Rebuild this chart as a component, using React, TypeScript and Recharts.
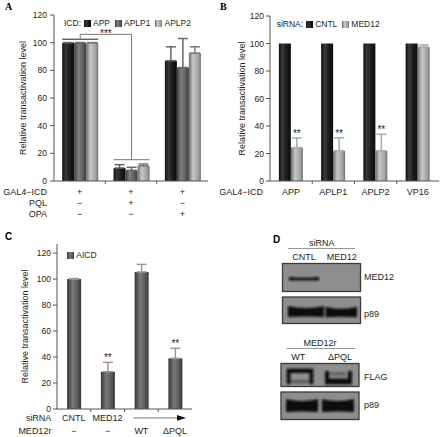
import React from 'react';
import { BarChart, Bar, XAxis, YAxis, ErrorBar, LabelList, Legend, ReferenceArea } from 'recharts';

const FONT = '"Liberation Sans", Arial, Helvetica, sans-serif';
const INK = '#1e1e1e';
const AXIS = '#555';
const FRAME = '#8a8a8a';

// ---- panel A: GAL4-ICD with PQL / OPA domains
const groupsA = ['ICD', 'ICD+PQL', 'ICD+OPA'];
const seriesA = ['APP', 'APLP1', 'APLP2'];
const rowNamesA = ['GAL4\u2212ICD', 'PQL', 'OPA'];
const gal4RowA = ['+', '+', '+'];
const pqlRowA = ['\u2212', '+', '\u2212'];
const opaRowA = ['\u2212', '\u2212', '+'];
const appA = [100, 9.4, 87];
const appErrA = [0, 2.4, 10];
const aplp1A = [100, 7.7, 82];
const aplp1ErrA = [0, 2.2, 21];
const aplp2A = [100, 11, 92.5];
const aplp2ErrA = [0, 1.3, 4.5];
const bracketA = { from: 0, to: 1, fromTop: 102.5, toTop: 15.4, peak: 106, mark: '***' };

// ---- panel B: siRNA knock-down
const icdB = ['APP', 'APLP1', 'APLP2', 'VP16'];
const seriesB = ['CNTL', 'MED12'];
const cntlB = [100, 100, 100, 100];
const med12B = [24.3, 22, 22, 97.5];
const med12ErrB = [7, 9.4, 12, 1.5];
const sigB = ['**', '**', '**', ''];

// ---- panel C: rescue
const lanesC = ['CNTL', 'MED12', 'WT', 'dPQL'];
const sirnaRowC = ['CNTL', 'MED12', '', ''];
const med12rRowC = ['\u2212', '\u2212', 'WT', '\u0394PQL'];
const aicdC = [100, 28.7, 105.5, 39];
const aicdErrC = [0.4, 7.2, 5.8, 7.7];
const sigC = ['', '**', '', '**'];

// ---- panel D: blots
const sirnaLanesD = ['CNTL', 'MED12'];
const rescueLanesD = ['WT', '\u0394PQL'];
const blotNamesD = ['MED12', 'p89', 'FLAG', 'p89'];

const ticksY = [0, 20, 40, 60, 80, 100, 120];

const dataA = groupsA.map((g, i) => ({
  group: g,
  app: appA[i], appErr: [0, appErrA[i]],
  aplp1: aplp1A[i], aplp1Err: [0, aplp1ErrA[i]],
  aplp2: aplp2A[i], aplp2Err: [0, aplp2ErrA[i]],
}));
const dataB = icdB.map((g, i) => ({ icd: g, cntl: cntlB[i], med12: med12B[i], med12Err: [0, med12ErrB[i]], sig: sigB[i] }));
const dataC = lanesC.map((g, i) => ({ lane: g, aicd: aicdC[i], aicdErr: [0, aicdErrC[i]], sig: sigC[i] }));

const LA = { left: 0, top: 0, w: 220, h: 220, m: { top: 15, right: 12, bottom: 0, left: 0 }, yw: 54, xh: 39 };
const LB = { left: 220, top: 0, w: 221, h: 220, m: { top: 16, right: 2, bottom: 0, left: 0 }, yw: 50, xh: 39 };
const LC = { left: 0, top: 220, w: 220, h: 217, m: { top: 24, right: 28, bottom: 0, left: 0 }, yw: 57, xh: 28 };
const bandOf = (L: any, n: number) => (L.w - L.m.left - L.m.right - L.yw) / n;

const yLabel = (dx: number) => (props: any) => {
  const { x, y, width, height } = props.viewBox;
  const cx = x + width / 2 + dx;
  const cy = y + height / 2;
  return (
    <text x={cx} y={cy} transform={`rotate(-90, ${cx}, ${cy})`} textAnchor="middle" dominantBaseline="central"
      fontSize={9} fontFamily={FONT} fill={INK}>Relative transactivation level</text>
  );
};

const rowTick = (rows: string[][], names: string[], band: number, base: number, step: number, nameGap: number, arrowAt = -1) => (props: any) => {
  const { x, y, index } = props;
  const half = band / 2;
  return (
    <g fontFamily={FONT} fontSize={9} fill={INK}>
      {index > 0 && <line x1={x - half} x2={x - half} y1={y} y2={y + 3} stroke={AXIS} />}
      {rows.map((row, r) => (
        <text key={r} x={x} y={y + base + r * step} textAnchor="middle">{row[index]}</text>
      ))}
      {index === 0 && names.map((n, r) => (
        <text key={'n' + r} x={x - half - nameGap} y={y + base + r * step} textAnchor="end">{n}</text>
      ))}
      {index === arrowAt && (
        <g>
          <line x1={x - half + 9} x2={x + band * 1.5 - 12} y1={y + base - 3} y2={y + base - 3} stroke="#777" strokeWidth={1} />
          <polygon points={`${x + band * 1.5 - 6},${y + base - 3} ${x + band * 1.5 - 15},${y + base - 5.8} ${x + band * 1.5 - 15},${y + base - 0.2}`} fill="#111" />
        </g>
      )}
    </g>
  );
};

const starLabel = (values: number[], errs: number[], marks: string[]) => (props: any) => {
  const vb = props.viewBox ?? props;
  const i = props.index;
  if (i == null || !marks[i]) return null;
  const top = vb.y - errs[i] * (vb.height / values[i]);
  return (
    <text x={vb.x + vb.width / 2} y={top - 1} textAnchor="middle" fontSize={10} fontFamily={FONT} fill={INK}>{marks[i]}</text>
  );
};

// significance bracket between two groups, built from the first bar of the "from" group
const bracketLabel = (values: number[], nBars: number, band: number) => (props: any) => {
  const vb = props.viewBox ?? props;
  if (props.index !== bracketA.from) return null;
  const unit = vb.height / values[bracketA.from];
  const zero = vb.y + vb.height;
  const yOf = (v: number) => zero - v * unit;
  const span = vb.width * nBars;
  const x0 = vb.x;
  const x1 = vb.x + (bracketA.to - bracketA.from) * band;
  const c0 = x0 + span / 2;
  const c1 = x1 + span / 2;
  const yp = yOf(bracketA.peak);
  return (
    <g fill="none">
      <line x1={x0} x2={x0 + span} y1={yOf(bracketA.fromTop)} y2={yOf(bracketA.fromTop)} stroke="#222" />
      <line x1={x1} x2={x1 + span} y1={yOf(bracketA.toTop)} y2={yOf(bracketA.toTop)} stroke="#777" />
      <polyline points={`${c0},${yOf(bracketA.fromTop)} ${c0},${yp} ${c1},${yp} ${c1},${yOf(bracketA.toTop)}`} stroke="#777" />
      <text x={(c0 + c1) / 2} y={yp + 3} textAnchor="middle" fontSize={10} fontFamily={FONT} fill={INK}>{bracketA.mark}</text>
    </g>
  );
};

const legendBox = (title: string, order: string[]) => (props: any) => {
  const items = [...(props.payload || [])].sort((a: any, b: any) => order.indexOf(a.value) - order.indexOf(b.value));
  return (
    <div style={{ display: 'flex', alignItems: 'center', fontFamily: FONT, fontSize: 8.5, color: INK, whiteSpace: 'nowrap', lineHeight: '10px' }}>
      {title && <span style={{ marginRight: 3 }}>{title}</span>}
      {items.map((e: any) => (
        <span key={e.value} style={{ display: 'flex', alignItems: 'center', marginRight: 5 }}>
          <svg width={7} height={7} style={{ marginRight: 2 }}><rect width={7} height={7} fill={e.color} /></svg>
          {e.value}
        </span>
      ))}
    </div>
  );
};

const bandPath = (x0: number, x1: number, cy: number, t: number, flare: number) => {
  const mx = (x0 + x1) / 2;
  return `M${x0},${cy - t / 2 - flare} Q${mx},${cy - t / 2 + flare} ${x1},${cy - t / 2 - flare} L${x1},${cy + t / 2 + flare * 0.5} Q${mx},${cy + t / 2} ${x0},${cy + t / 2 + flare * 0.5} Z`;
};

const Grad = ({ id, stops }: { id: string; stops: [number, string][] }) => (
  <linearGradient id={id} x1="0" y1="0" x2="1" y2="0">
    {stops.map(([o, c]) => <stop key={o} offset={o} stopColor={c} />)}
  </linearGradient>
);

const PanelD = () => (
  <svg width={441} height={437} style={{ position: 'absolute', left: 0, top: 0 }}>
    <defs>
      <Grad id="gDark" stops={[[0, '#0e0e0e'], [0.3, '#3a3a3a'], [0.6, '#1e1e1e'], [1, '#0a0a0a']]} />
      <Grad id="gMid" stops={[[0, '#3a3a3a'], [0.35, '#808080'], [0.75, '#5c5c5c'], [1, '#3c3c3c']]} />
      <Grad id="gLight" stops={[[0, '#6a6a6a'], [0.35, '#c8c8c8'], [0.8, '#a0a0a0'], [1, '#6e6e6e']]} />
      <Grad id="gC" stops={[[0, '#363636'], [0.4, '#7a7a7a'], [0.75, '#5a5a5a'], [1, '#363636']]} />
      <filter id="blurBand" x="-20%" y="-50%" width="140%" height="200%"><feGaussianBlur stdDeviation="0.9" /></filter>
    </defs>
    <g fontFamily='"Liberation Serif", serif' fontWeight="bold" fontSize={10} fill="#000">
      <text x={5} y={10}>A</text>
      <text x={220} y={10}>B</text>
    </g>
    <g fontFamily={FONT} fontWeight="bold" fontSize={10} fill="#000">
      <text x={5} y={239.5}>C</text>
      <text x={273} y={242.5}>D</text>
    </g>
    <g fontFamily={FONT} fontSize={9} fill={INK}>
      <text x={321.7} y={245.8} textAnchor="middle">siRNA</text>
      <line x1={288} x2={355} y1={248.5} y2={248.5} stroke="#999" />
      <text x={304} y={260.4} textAnchor="middle">{sirnaLanesD[0]}</text>
      <text x={341.7} y={260.4} textAnchor="middle">{sirnaLanesD[1]}</text>
      <text x={320} y={345.8} textAnchor="middle">MED12r</text>
      <line x1={286.7} x2={355} y1={348.5} y2={348.5} stroke="#999" />
      <text x={298.3} y={359.8} textAnchor="middle">{rescueLanesD[0]}</text>
      <text x={340} y={359.8} textAnchor="middle">{rescueLanesD[1]}</text>
      <text x={364} y={280.4}>{blotNamesD[0]}</text>
      <text x={364} y={317.4}>{blotNamesD[1]}</text>
      <text x={364} y={379.8}>{blotNamesD[2]}</text>
      <text x={364} y={408.1}>{blotNamesD[3]}</text>
    </g>
    <g stroke="#3a3a3a" strokeWidth={1.3} fill="#8e8e8e">
      <rect x={282.5} y={263.5} width={78} height={28} />
      <rect x={282.5} y={297} width={78} height={26.5} />
      <rect x={281} y={363.5} width={78} height={23} />
      <rect x={281} y={392} width={78} height={27.5} />
    </g>
    <g fill="#111" filter="url(#blurBand)">
      <path d={bandPath(289, 319, 279, 2.6, 0.6)} />
      <path d={bandPath(288, 324, 312, 8, 2)} />
      <path d={bandPath(325.5, 357, 312.5, 7.5, 2)} />
      <path d="M286.7,368.5 L313.3,368.5 L313.3,384 L309.5,384 L309.5,373 L290.5,373 L290.5,384 L286.7,384 Z" />
      <rect x={290} y={380} width={20} height={3} opacity={0.45} />
      <path d="M325,371 L329,371 L329,378.5 L348,378.5 L348,371 L352,371 L352,384.5 L325,384.5 Z" />
      <rect x={330} y={372} width={16} height={3.5} opacity={0.3} />
      <path d={bandPath(286, 318, 406, 10, 2)} />
      <path d={bandPath(322, 354, 406, 10, 2)} />
    </g>
  </svg>
);

export default function App() {
  const bandA = bandOf(LA, groupsA.length);
  const bandB = bandOf(LB, icdB.length);
  const bandC = bandOf(LC, lanesC.length);
  const tickText = { fontSize: 8.5, fill: INK, fontFamily: FONT };

  return (
    <div style={{ position: 'absolute', left: 0, top: 0, width: 441, height: 437, background: '#fff', fontFamily: FONT }}>
      <PanelD />

      <div style={{ position: 'absolute', left: LA.left, top: LA.top }}>
        <BarChart width={LA.w} height={LA.h} data={dataA} margin={LA.m} barCategoryGap="16%" barGap={0}>
          <XAxis dataKey="group" height={LA.xh} interval={0} tickLine={false} tickSize={0} tickMargin={0} axisLine={{ stroke: AXIS }}
            tick={rowTick([gal4RowA, pqlRowA, opaRowA], rowNamesA, bandA, 14, 11.2, 7)} />
          <XAxis xAxisId="n" type="number" domain={[0, groupsA.length]} allowDataOverflow hide />
          <YAxis domain={[0, 120]} ticks={ticksY} width={LA.yw} tickSize={4} tickMargin={3} interval={0}
            axisLine={{ stroke: AXIS }} tickLine={{ stroke: AXIS }} tick={tickText} label={yLabel(-4.3)} />
          <ReferenceArea xAxisId="n" x1={0} x2={groupsA.length} y1={0} y2={120} fill="none" stroke={FRAME} />
          <Legend layout="horizontal" verticalAlign="middle" align="center" content={legendBox('ICD:', seriesA)}
            wrapperStyle={{ top: 18, left: 64, width: 'auto', height: 'auto' }} />
          <Bar dataKey="app" name={seriesA[0]} fill="url(#gDark)" isAnimationActive={false}>
            <ErrorBar dataKey="appErr" width={5} stroke="#666" />
            <LabelList dataKey="app" content={bracketLabel(appA, seriesA.length, bandA)} />
          </Bar>
          <Bar dataKey="aplp1" name={seriesA[1]} fill="url(#gMid)" isAnimationActive={false}>
            <ErrorBar dataKey="aplp1Err" width={5} stroke="#666" />
          </Bar>
          <Bar dataKey="aplp2" name={seriesA[2]} fill="url(#gLight)" isAnimationActive={false}>
            <ErrorBar dataKey="aplp2Err" width={5} stroke="#777" />
          </Bar>
        </BarChart>
      </div>

      <div style={{ position: 'absolute', left: LB.left, top: LB.top }}>
        <BarChart width={LB.w} height={LB.h} data={dataB} margin={LB.m} barCategoryGap="21%" barGap={0}>
          <XAxis dataKey="icd" height={LB.xh} interval={0} tickLine={false} tickSize={0} tickMargin={0} axisLine={{ stroke: AXIS }}
            tick={rowTick([icdB], ['GAL4\u2212ICD'], bandB, 14, 11.2, 7)} />
          <XAxis xAxisId="n" type="number" domain={[0, icdB.length]} allowDataOverflow hide />
          <YAxis domain={[0, 120]} ticks={ticksY} width={LB.yw} tickSize={4} tickMargin={2} interval={0}
            axisLine={{ stroke: AXIS }} tickLine={{ stroke: AXIS }} tick={tickText} label={yLabel(-3.3)} />
          <ReferenceArea xAxisId="n" x1={0} x2={icdB.length} y1={0} y2={120} fill="none" stroke={FRAME} />
          <Legend layout="horizontal" verticalAlign="middle" align="center" content={legendBox('siRNA:', seriesB)}
            wrapperStyle={{ top: 19, left: 56.7, width: 'auto', height: 'auto' }} />
          <Bar dataKey="cntl" name={seriesB[0]} fill="url(#gDark)" isAnimationActive={false} />
          <Bar dataKey="med12" name={seriesB[1]} fill="url(#gLight)" isAnimationActive={false}>
            <ErrorBar dataKey="med12Err" width={5} stroke="#aaa" />
            <LabelList dataKey="sig" content={starLabel(med12B, med12ErrB, sigB)} />
          </Bar>
        </BarChart>
      </div>

      <div style={{ position: 'absolute', left: LC.left, top: LC.top }}>
        <BarChart width={LC.w} height={LC.h} data={dataC} margin={LC.m} barCategoryGap="30%" barGap={0}>
          <XAxis dataKey="lane" height={LC.xh} interval={0} tickLine={false} tickSize={0} tickMargin={0} axisLine={{ stroke: AXIS }}
            tick={rowTick([sirnaRowC, med12rRowC], ['siRNA', 'MED12r'], bandC, 11.9, 13.3, 5.6, 2)} />
          <XAxis xAxisId="n" type="number" domain={[0, lanesC.length]} allowDataOverflow hide />
          <YAxis domain={[0, 127]} ticks={ticksY} width={LC.yw} tickSize={4} tickMargin={2} interval={0}
            axisLine={{ stroke: AXIS }} tickLine={{ stroke: AXIS }} tick={tickText} label={yLabel(-3.7)} />
          <ReferenceArea xAxisId="n" x1={0} x2={lanesC.length} y1={0} y2={127} fill="none" stroke={FRAME} />
          <Legend layout="horizontal" verticalAlign="middle" align="center" content={legendBox('', ['AICD'])}
            wrapperStyle={{ top: 30, left: 67.3, width: 'auto', height: 'auto' }} />
          <Bar dataKey="aicd" name="AICD" fill="url(#gC)" isAnimationActive={false}>
            <ErrorBar dataKey="aicdErr" width={5} stroke="#999" />
            <LabelList dataKey="sig" content={starLabel(aicdC, aicdErrC, sigC)} />
          </Bar>
        </BarChart>
      </div>
    </div>
  );
}
